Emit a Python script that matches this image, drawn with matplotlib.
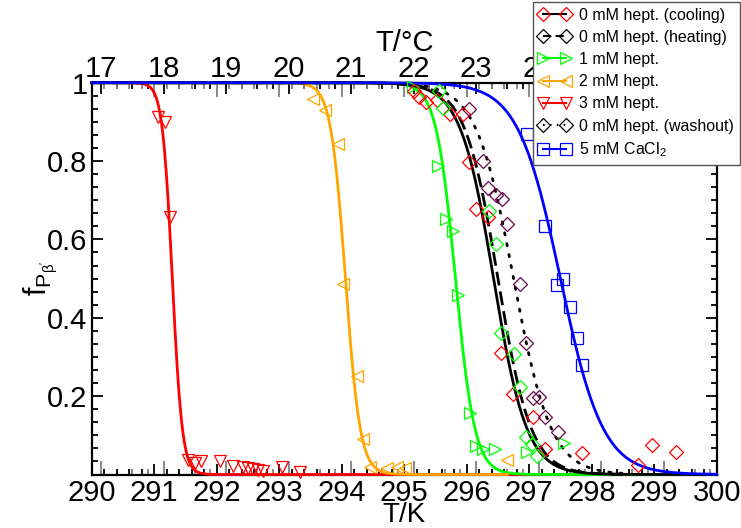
import numpy as np
import matplotlib
matplotlib.use("Agg")
import matplotlib.pyplot as plt
from matplotlib.lines import Line2D
from matplotlib.ticker import MultipleLocator, AutoMinorLocator
from matplotlib import font_manager

# ---------------- data ----------------
# 3 mM heptanol (red, down triangles)
t3_T = [291.066, 291.173, 291.25, 291.546, 291.653, 291.744, 292.053, 292.256,
        292.426, 292.506, 292.576, 292.666, 292.746, 293.04, 293.333]
t3_f = [0.913, 0.900, 0.658, 0.037, 0.029, 0.035, 0.035, 0.022,
        0.018, 0.016, 0.013, 0.011, 0.010, 0.020, 0.007]
# 2 mM heptanol (orange, left triangles)
t2_T = [293.546, 293.733, 293.946, 294.026, 294.24, 294.336, 294.453,
        294.72, 294.88, 295.01, 296.64]
t2_f = [0.958, 0.930, 0.844, 0.486, 0.251, 0.090, 0.018,
        0.016, 0.020, 0.016, 0.036]
# 1 mM heptanol (green, right triangles)
t1_T = [295.14, 295.546, 295.669, 295.776, 295.866, 296.06, 296.152,
        296.253, 296.46, 296.957, 297.55]
t1_f = [0.989, 0.788, 0.652, 0.621, 0.457, 0.158, 0.074,
        0.064, 0.065, 0.057, 0.080]
# 0 mM cooling (red diamonds)
c0_T = [295.157, 295.242, 295.349, 295.53, 295.733, 295.946, 296.042, 296.149,
        296.34, 296.544, 296.736, 297.056, 297.248, 297.85, 298.746, 298.96, 299.349]
c0_f = [0.979, 0.964, 0.950, 0.956, 0.919, 0.919, 0.798, 0.678,
        0.657, 0.309, 0.205, 0.146, 0.065, 0.054, 0.024, 0.075, 0.058]
# 0 mM heating (green diamonds)
h0_T = [295.562, 295.626, 296.362, 296.469, 296.544, 296.757, 296.853,
        296.949, 297.04, 297.12]
h0_f = [0.980, 0.935, 0.672, 0.588, 0.362, 0.307, 0.224,
        0.095, 0.078, 0.047]
# 0 mM washout (maroon diamonds)
w0_T = [296.042, 296.253, 296.346, 296.461, 296.56, 296.65, 296.853,
        296.941, 297.056, 297.162, 297.245, 297.458]
w0_f = [0.934, 0.801, 0.730, 0.713, 0.704, 0.639, 0.485,
        0.336, 0.194, 0.198, 0.148, 0.109]
# 5 mM CaCl2 (blue squares)
ca_T = [296.96, 297.253, 297.45, 297.54, 297.653, 297.76, 297.85]
ca_f = [0.869, 0.635, 0.483, 0.500, 0.428, 0.349, 0.279]

# two-state fit parameters: midpoint (K), width (K), fitted T range
fit_names = ["3mM", "2mM", "1mM", "cool", "heat", "wash", "ca"]
fit_Tm = [291.29, 294.06, 295.82, 296.43, 296.50, 296.75, 297.50]
fit_w = [0.08, 0.118, 0.155, 0.265, 0.265, 0.30, 0.34]
fit_Tlo = [290.0, 290.0, 290.0, 290.0, 290.0, 290.0, 290.0]
fit_Thi = [300.0, 296.65, 300.0, 300.0, 298.5, 298.6, 300.0]

x_ticks = [290, 291, 292, 293, 294, 295, 296, 297, 298, 299, 300]
y_ticks = [0.2, 0.4, 0.6, 0.8, 1.0]
y_ticklabels = ["0.2", "0.4", "0.6", "0.8", "1"]
c_ticks = [17, 18, 19, 20, 21, 22, 23, 24, 25, 26, 27]

legend_labels = ["0 mM hept. (cooling)", "0 mM hept. (heating)", "1 mM hept.",
                 "2 mM hept.", "3 mM hept.", "0 mM hept. (washout)",
                 "5 mM CaCl$_2$"]

# ---------------- style ----------------
names = {f.name for f in font_manager.fontManager.ttflist}
narrow = "Liberation Sans Narrow" if "Liberation Sans Narrow" in names else "Liberation Sans"
plt.rcParams["font.family"] = ["Liberation Sans", "DejaVu Sans"]
plt.rcParams["mathtext.fontset"] = "custom"
plt.rcParams["mathtext.rm"] = "Liberation Sans"
plt.rcParams["mathtext.it"] = "Liberation Sans:italic"

RED = "#ff0000"
ORANGE = "#ffa500"
GREEN = "#00ff00"
BLUE = "#0000ff"
MAROON = "#670748"
GRAY = "#808080"

W, H = 741, 528
fig = plt.figure(figsize=(W / 100, H / 100), dpi=100)
L, R, B, T = 91.7, 716.7, 474.5, 82.7
ax = fig.add_axes([L / W, 1 - B / H, (R - L) / W, (B - T) / H])
ax.set_xlim(290, 300)
ax.set_ylim(0, 1)

def two_state(Tarr, Tm, w):
    return 1.0 / (1.0 + np.exp((Tarr - Tm) / w))

fit_style = {
    "3mM": dict(color=RED, ls="-"),
    "2mM": dict(color=ORANGE, ls="-"),
    "1mM": dict(color=GREEN, ls="-"),
    "cool": dict(color="black", ls="-"),
    "heat": dict(color="black", ls=(0, (5, 2.2))),
    "wash": dict(color="black", ls=(0, (0.8, 3.2))),
    "ca": dict(color=BLUE, ls="-"),
}
order = ["3mM", "1mM", "2mM", "cool", "heat", "wash", "ca"]
for i, name in enumerate(order):
    k = fit_names.index(name)
    tt = np.linspace(fit_Tlo[k], fit_Thi[k], 1200)
    st = fit_style[name]
    ax.plot(tt, two_state(tt, fit_Tm[k], fit_w[k]), color=st["color"], ls=st["ls"],
            lw=2.0, zorder=3 + i * 0.01, clip_on=False,
            dash_capstyle="round" if name == "wash" else "butt")

mk = dict(ls="none", mfc="none", mew=0.9, zorder=4, clip_on=False)
ax.plot(t3_T, t3_f, marker="v", ms=9, mec=RED, **mk)
ax.plot(t2_T, t2_f, marker="<", ms=9, mec=ORANGE, **mk)
ax.plot(t1_T, t1_f, marker=">", ms=9, mec=GREEN, **mk)
ax.plot(c0_T, c0_f, marker="D", ms=7, mec=RED, **mk)
ax.plot(h0_T, h0_f, marker="D", ms=7, mec=GREEN, **mk)
ax.plot(w0_T, w0_f, marker="D", ms=7, mec=MAROON, **mk)
ax.plot(ca_T, ca_f, marker="s", ms=8, mec=BLUE, **mk)

# ---------------- axes / ticks ----------------
for sp in ax.spines.values():
    sp.set_linewidth(1.6)
    sp.set_zorder(2.5)
ax.set_xticks(x_ticks)
ax.xaxis.set_minor_locator(MultipleLocator(0.2))
ax.set_yticks(y_ticks)
ax.set_yticklabels(y_ticklabels)
ax.yaxis.set_minor_locator(AutoMinorLocator(6))
ax.tick_params(which="both", direction="in", top=False, right=True, width=1.3,
               labelsize=21, color="black")
ax.tick_params(which="major", length=8)
ax.tick_params(which="minor", length=4.5)
for lab in ax.get_xticklabels() + ax.get_yticklabels():
    lab.set_family([narrow, "Liberation Sans"])
ax.tick_params(axis="x", pad=3)
ax.tick_params(axis="y", pad=3)

k2c = lambda x: x - 273.15
c2k = lambda x: x + 273.15
top = ax.secondary_xaxis("top", functions=(k2c, c2k))
top.set_xticks(c_ticks)
top.xaxis.set_minor_locator(MultipleLocator(0.25))
top.tick_params(which="both", direction="in", width=1.3, labelsize=21, pad=0)
top.tick_params(which="major", length=8)
top.tick_params(which="minor", length=4.5)
for lab in top.get_xticklabels():
    lab.set_family([narrow, "Liberation Sans"])
top.spines["top"].set_visible(False)

# mirrored (grey) ticks of the opposite scale
topk = ax.secondary_xaxis("top")
topk.set_xticks(x_ticks)
topk.xaxis.set_minor_locator(MultipleLocator(0.2))
topk.tick_params(which="both", direction="in", width=1.3, color=GRAY, labeltop=False)
topk.tick_params(which="major", length=10)
topk.tick_params(which="minor", length=4.5)
topk.spines["top"].set_visible(False)

botc = ax.secondary_xaxis("bottom", functions=(k2c, c2k))
botc.set_xticks(c_ticks)
botc.xaxis.set_minor_locator(MultipleLocator(0.25))
botc.tick_params(which="both", direction="in", width=1.3, color=GRAY, labelbottom=False)
botc.tick_params(which="major", length=10)
botc.tick_params(which="minor", length=4.5)
botc.spines["bottom"].set_visible(False)

ax.set_xlabel("T/K", fontsize=20, family=[narrow, "Liberation Sans"], labelpad=-3)
top.set_xlabel("T/°C", fontsize=21, family=[narrow, "Liberation Sans"], labelpad=3)
ax.set_ylabel(r"$\mathrm{f_{P_{\beta^{\prime}}}}$", fontsize=22, labelpad=-9)

# ---------------- legend ----------------
handles = [
    Line2D([], [], color="black", ls="-", lw=1.5, marker="D", ms=7, mfc="none", mec=RED, mew=0.9),
    Line2D([], [], color="black", ls=(0, (4, 2)), lw=1.5, marker="D", ms=7, mfc="none", mec="black", mew=0.9),
    Line2D([], [], color=GREEN, ls="-", lw=1.5, marker=">", ms=9, mfc="none", mec=GREEN, mew=0.9),
    Line2D([], [], color=ORANGE, ls="-", lw=1.5, marker="<", ms=9, mfc="none", mec=ORANGE, mew=0.9),
    Line2D([], [], color=RED, ls="-", lw=1.5, marker="v", ms=9, mfc="none", mec=RED, mew=0.9),
    Line2D([], [], color="black", ls=(0, (0.8, 2.5)), lw=1.5, marker="D", ms=7, mfc="none", mec="black", mew=0.9),
    Line2D([], [], color=BLUE, ls="-", lw=1.5, marker="s", ms=8, mfc="none", mec=BLUE, mew=0.9),
]
leg = fig.legend(handles, legend_labels, loc="upper left",
                 bbox_to_anchor=(533 / W, 1 - 2 / H), borderaxespad=0,
                 numpoints=2, fontsize=11.5, handlelength=2.0, handletextpad=0.55,
                 labelspacing=0.45, borderpad=0.35, fancybox=False, framealpha=1,
                 edgecolor="#555555")
leg.get_frame().set_linewidth(1.0)
leg.set_zorder(10)

fig.savefig("out.png", dpi=100)
